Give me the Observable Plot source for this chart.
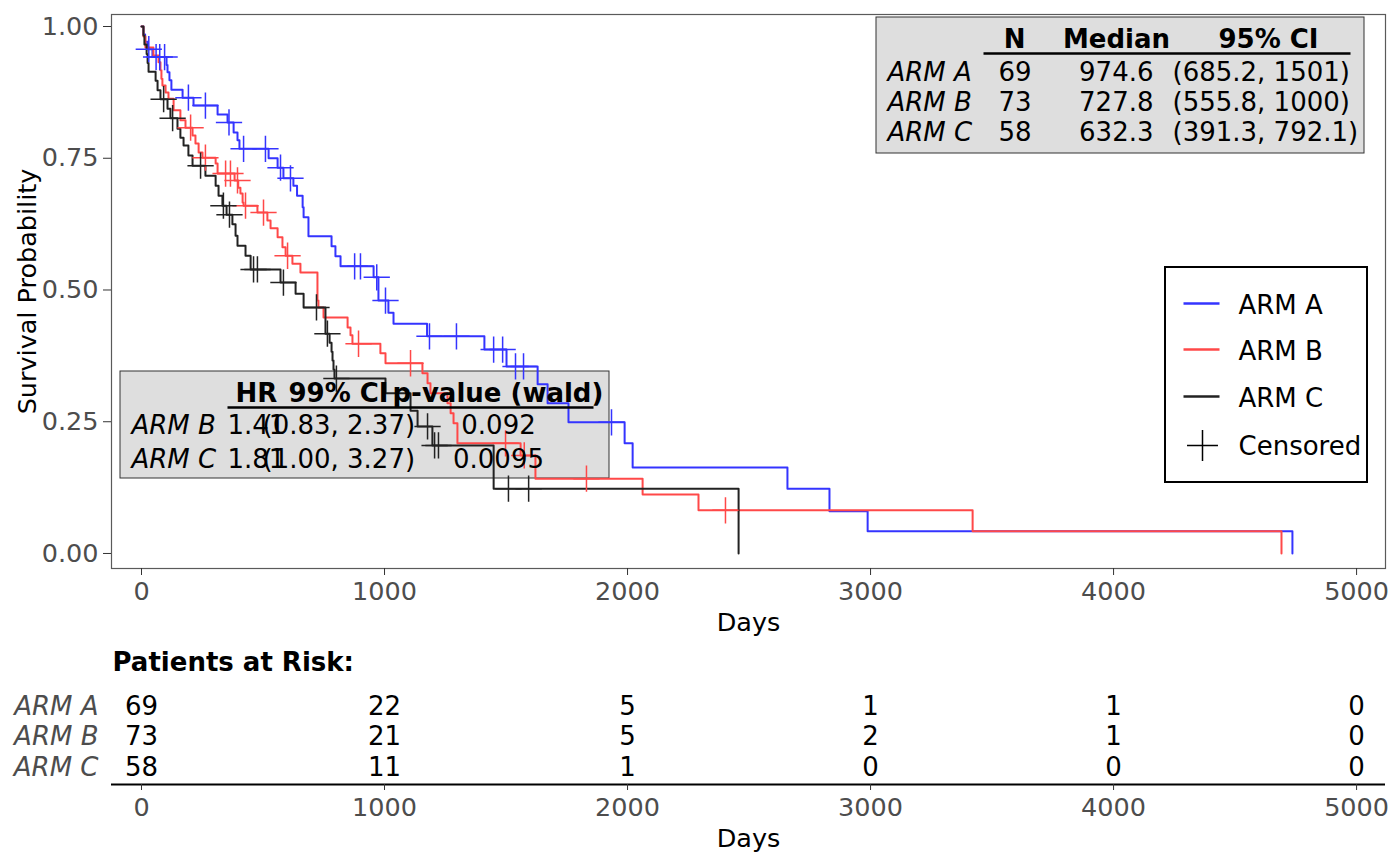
<!DOCTYPE html>
<html><head><meta charset="utf-8">
<script src="https://cdn.jsdelivr.net/npm/d3@7"></script>
<script src="https://cdn.jsdelivr.net/npm/@observablehq/plot@0.6"></script>
<style>
body{margin:0;background:#fff;font-family:"DejaVu Sans",sans-serif;}
#chart{width:1400px;}
#chart svg{display:block;}
</style></head><body><div id="chart"></div>
<script>
// ---------------- data ----------------
const arms = ["ARM A", "ARM B", "ARM C"];
const armColors = ["#3434ff", "#ff4848", "#222222"];

const timeA = [0,8,15,25,45,103,107,115,123,169,214,313,354,379,395,403,523,560,584,625,640,663,667,687,782,798,819,955,975,1016,1037,1175,1411,1502,1630,1671,1757,1988,2021,2658,2831,2988,4736];
const survA = [1,0.985,0.971,0.957,0.942,0.927,0.913,0.898,0.880,0.865,0.850,0.833,0.818,0.799,0.784,0.768,0.750,0.732,0.712,0.698,0.679,0.657,0.638,0.602,0.583,0.564,0.545,0.524,0.480,0.457,0.436,0.412,0.387,0.355,0.321,0.285,0.249,0.209,0.163,0.123,0.080,0.042,0];
const censorA = [30,60,75,95,193,263,360,420,510,572,613,877,901,968,1004,1185,1296,1449,1486,1539,1572,1934];

const timeB = [0,8,16,49,70,78,82,86,99,111,132,160,181,210,222,235,251,305,313,383,398,407,416,420,477,518,531,560,580,593,621,654,724,728,749,848,860,868,983,1004,1156,1177,1189,1259,1272,1284,1300,1560,1621,2062,2292,3420,4691];
const survB = [1,0.981,0.960,0.945,0.932,0.917,0.901,0.888,0.875,0.863,0.841,0.822,0.808,0.793,0.778,0.761,0.751,0.740,0.721,0.708,0.694,0.683,0.666,0.660,0.647,0.632,0.617,0.600,0.581,0.565,0.550,0.533,0.480,0.467,0.448,0.429,0.414,0.398,0.380,0.361,0.342,0.323,0.304,0.285,0.266,0.247,0.209,0.186,0.142,0.112,0.082,0.042,0];
const censorB = [202,263,346,366,395,428,502,601,893,1107,1498,1575,1831,2403];

const timeC = [0,8,12,21,25,29,58,66,78,107,119,148,160,173,193,210,263,305,317,333,350,374,387,395,428,449,572,634,667,757,774,782,786,790,794,1004,1107,1136,1197,1449,2457];
const survC = [1,0.983,0.966,0.948,0.931,0.914,0.897,0.879,0.862,0.844,0.826,0.806,0.789,0.774,0.755,0.736,0.717,0.698,0.679,0.660,0.643,0.625,0.603,0.584,0.565,0.539,0.514,0.493,0.467,0.417,0.400,0.383,0.366,0.349,0.332,0.304,0.271,0.241,0.205,0.123,0];
const censorC = [91,128,243,337,362,461,477,584,720,765,802,1177,1206,1222,1510,1593];

const xTicks = [0, 1000, 2000, 3000, 4000, 5000];
const yTicks = [0, 0.25, 0.5, 0.75, 1];

const summaryN = ["69", "73", "58"];
const summaryMedian = ["974.6", "727.8", "632.3"];
const summaryCI = ["(685.2, 1501)", "(555.8, 1000)", "(391.3, 792.1)"];
const summaryHeader = ["N", "Median", "95% CI"];

const hrArms = ["ARM B", "ARM C"];
const hrValue = ["1.41", "1.81"];
const hrCI = ["(0.83, 2.37)", "(1.00, 3.27)"];
const hrP = ["0.092", "0.0095"];
const hrHeader = ["HR", "99% CI", "p-value (wald)"];

const riskTimes = [0, 1000, 2000, 3000, 4000, 5000];
const riskA = [69, 22, 5, 1, 1, 0];
const riskB = [73, 21, 5, 2, 1, 0];
const riskC = [58, 11, 1, 0, 0, 0];

// ---------------- tables for the library ----------------
const times = [timeA, timeB, timeC], survs = [survA, survB, survC], cens = [censorA, censorB, censorC];
const steps = arms.flatMap((arm, k) => times[k].map((t, i) => ({arm, t, s: survs[k][i]})));
function survAt(k, t) { let s = 1; times[k].forEach((tt, i) => { if (tt <= t) s = survs[k][i]; }); return s; }
const censored = arms.flatMap((arm, k) => cens[k].map(t => ({arm, t, s: survAt(k, t)})));
const risks = [riskA, riskB, riskC];
const riskRows = arms.flatMap((arm, k) => riskTimes.map((t, i) => ({arm, row: 3 - k, t, n: risks[k][i]})));
const armRows = arms.map((arm, k) => ({arm, row: 3 - k}));

// ---------------- layout ----------------
const W = 1400, H1 = 640, H2 = 226;
const mL = 111, mR = 15, mT = 14, mB = 72;
const xDomain = [-123.5, 5119];
const yDomain = [-0.0285, 1.0228];
const X = px => xDomain[0] + (px - mL) * (xDomain[1] - xDomain[0]) / (W - mL - mR);
const Y = py => yDomain[1] - (py - mT) * (yDomain[1] - yDomain[0]) / (H1 - mT - mB);
const FS = 26;

const sumRowsY = [72, 102, 132];
const hrRowsY = [424.7, 458.7];
const legendY = [303, 349, 396];

const kmPlot = Plot.plot({
  width: W, height: H1,
  marginLeft: mL, marginRight: mR, marginTop: mT, marginBottom: mB,
  style: {fontFamily: "DejaVu Sans", fontSize: "25.5px", background: "white"},
  x: {domain: xDomain},
  y: {domain: yDomain},
  color: {domain: arms, range: armColors},
  marks: [
    // annotation boxes
    Plot.rect([0], {x1: X(120), x2: X(609), y1: Y(371), y2: Y(478), fill: "#dedede", stroke: "#333", strokeWidth: 1}),
    Plot.rect([0], {x1: X(876), x2: X(1364), y1: Y(17), y2: Y(153), fill: "#dedede", stroke: "#333", strokeWidth: 1}),
    Plot.rect([0], {x1: X(1165), x2: X(1367), y1: Y(267), y2: Y(482), fill: "white", stroke: "black", strokeWidth: 2}),
    Plot.frame({stroke: "#5a5a5a", strokeWidth: 1.2}),
    // curves
    Plot.line(steps, {x: "t", y: "s", z: "arm", stroke: "arm", curve: "step-after", strokeWidth: 2}),
    Plot.dot(censored, {x: "t", y: "s", stroke: "arm", symbol: "plus", r: 8.5, strokeWidth: 1.5}),
    // axes
    Plot.axisX({ticks: xTicks, tickFormat: d => String(d), tickSize: 7, tickPadding: 6, label: null, stroke: "#333", fill: "#4d4d4d"}),
    Plot.axisY({ticks: yTicks, tickFormat: d3.format(".2f"), tickSize: 8, tickPadding: 5, label: null, stroke: "#333", fill: "#4d4d4d"}),
    Plot.text(["Days"], {frameAnchor: "bottom", dy: 54, lineAnchor: "middle", textAnchor: "middle", fill: "black"}),
    Plot.text(["Survival Probability"], {frameAnchor: "left", dx: -84, rotate: -90, textAnchor: "middle", lineAnchor: "middle", fill: "black"}),
    // summary table
    Plot.text(summaryHeader, {x: (d, i) => X([1014, 1116, 1268][i]), y: Y(39), fontWeight: "bold", fontSize: FS}),
    Plot.link([0], {x1: X(983), x2: X(1350), y1: Y(53), y2: Y(53), stroke: "black", strokeWidth: 2.5}),
    Plot.text(arms, {x: X(887), y: (d, i) => Y(sumRowsY[i]), textAnchor: "start", fontStyle: "italic", fontSize: FS}),
    Plot.text(summaryN, {x: X(998), y: (d, i) => Y(sumRowsY[i]), textAnchor: "start", fontSize: FS}),
    Plot.text(summaryMedian, {x: X(1153), y: (d, i) => Y(sumRowsY[i]), textAnchor: "end", fontSize: FS}),
    Plot.text(summaryCI, {x: X(1172), y: (d, i) => Y(sumRowsY[i]), textAnchor: "start", fontSize: FS}),
    // HR table
    Plot.text(hrHeader, {x: (d, i) => X([235, 288, 392][i]), y: Y(392.7), textAnchor: "start", fontWeight: "bold", fontSize: FS}),
    Plot.link([0], {x1: X(227), x2: X(593), y1: Y(407), y2: Y(407), stroke: "black", strokeWidth: 2.5}),
    Plot.text(hrArms, {x: X(131), y: (d, i) => Y(hrRowsY[i]), textAnchor: "start", fontStyle: "italic", fontSize: FS}),
    Plot.text(hrValue, {x: X(227), y: (d, i) => Y(hrRowsY[i]), textAnchor: "start", fontSize: FS}),
    Plot.text(hrCI, {x: X(262), y: (d, i) => Y(hrRowsY[i]), textAnchor: "start", fontSize: FS}),
    Plot.text(hrP, {x: X(498), y: (d, i) => Y(hrRowsY[i]), textAnchor: "middle", fontSize: FS}),
    // legend
    Plot.link(arms, {x1: X(1183), x2: X(1219), y1: (d, i) => Y(legendY[i]), y2: (d, i) => Y(legendY[i]), stroke: d => d, strokeWidth: 2.5}),
    Plot.text(arms, {x: X(1238), y: (d, i) => Y(legendY[i] + 2), textAnchor: "start", fontSize: FS}),
    Plot.dot([0], {x: X(1202), y: Y(445), symbol: "plus", r: 10, stroke: "black", strokeWidth: 1.5}),
    Plot.text(["Censored"], {x: X(1238), y: Y(446), textAnchor: "start", fontSize: FS})
  ]
});

const riskPlot = Plot.plot({
  width: W, height: H2,
  marginLeft: mL, marginRight: mR, marginTop: 0, marginBottom: 82,
  style: {fontFamily: "DejaVu Sans", fontSize: "25.5px", background: "white"},
  x: {domain: xDomain},
  y: {domain: [0.433, 5.154], axis: null},
  marks: [
    Plot.text(["Patients at Risk:"], {frameAnchor: "top-left", dx: 1, dy: 22, textAnchor: "start", lineAnchor: "middle", fontWeight: "bold", fontSize: FS}),
    Plot.text(armRows, {y: "row", text: "arm", frameAnchor: "left", dx: -13, textAnchor: "end", lineAnchor: "middle", fontStyle: "italic", fill: "#4d4d4d", fontSize: FS}),
    Plot.text(riskRows, {x: "t", y: "row", text: d => String(d.n), fontSize: FS, fill: "black"}),
    Plot.ruleY([0.433], {stroke: "black", strokeWidth: 2}),
    Plot.axisX({ticks: xTicks, tickFormat: d => String(d), tickSize: 6, tickPadding: 7, label: null, stroke: "#333", fill: "#4d4d4d"}),
    Plot.text(["Days"], {frameAnchor: "bottom", dy: 54, lineAnchor: "middle", textAnchor: "middle", fill: "black"})
  ]
});

document.getElementById("chart").append(kmPlot, riskPlot);
</script>
</body></html>
